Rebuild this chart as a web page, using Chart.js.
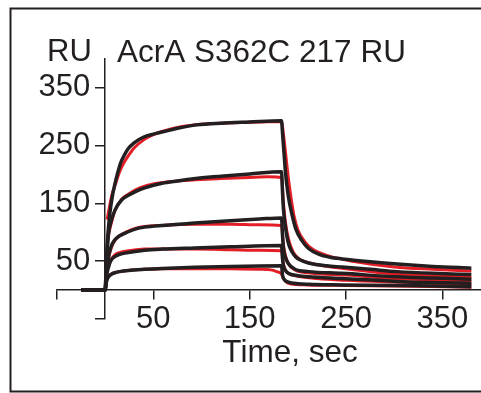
<!DOCTYPE html>
<html>
<head>
<meta charset="utf-8">
<script src="https://cdn.jsdelivr.net/npm/chart.js@4/dist/chart.umd.min.js"></script>
<style>
  html, body { margin: 0; padding: 0; background: #fff; }
  #wrap { width: 481px; height: 393px; position: relative; }
</style>
</head>
<body>
<div id="wrap"><canvas id="grafico"></canvas></div>
<script>
// ticks
const xTicks = [-50, 50, 150, 250, 350];
const yTicks = [-50, 50, 150, 250, 350];

// fitted curves (black), [time s, RU]
const fit1 = [[-25,0],[0,0],[1,40],[2,75],[3,100],[5,135],[7.5,163],[10,183],[13,203],[16,220],[20,234],[24,245],[30,255],[40,265],[50,270],[60,274],[75,280],[95,286],[120,289],[150,291],[183,293],[184,272],[185,250],[186,228],[187,205],[190,163],[194,130],[198,105],[204,86],[211,72],[222,62],[233,57],[246,54],[275,49],[303,45],[340,41],[380,38]];
const fit2 = [[-25,0],[0,0],[1,35],[2,65],[3.5,98],[6,118],[10,138],[17,156],[24,164],[32,171],[41,177],[59,185],[75,189],[94,193],[120,197],[150,201],[183,205],[184,170],[185,140],[187,110],[190,82],[194,66],[198,57],[204,51],[211,47],[230,42],[246,40],[275,36],[303,32],[340,29],[380,27]];
const fit3 = [[-25,0],[0,0],[1,22],[2,40],[3.5,58],[5,69],[7,79],[10,87],[15,94],[24,101],[32,106],[41,109],[59,112],[93,116],[130,120],[160,123],[183,125],[184,95],[185,72],[187,57],[190,46],[197,36],[211,32],[246,29],[303,23],[340,21],[380,19]];
const fit4 = [[-25,0],[0,0],[1,18],[2,30],[3.5,40],[5,48],[7,54],[10,58],[15,62],[24,65],[41,69],[59,71],[93,73],[130,75],[183,77],[184,55],[185,42],[187,34],[190,29],[200,25],[211,23],[246,20],[303,15],[340,13],[380,12]];
const fit5 = [[-25,0],[0,0],[1,12],[2,18],[3.5,23],[5,26],[7,28],[10,30],[15,32],[24,34],[41,36],[59,37.5],[93,39.5],[130,41],[183,42],[184,26],[186,18],[190,14],[200,11],[211,10],[246,9],[303,8],[340,7],[380,6]];

// measured sensorgrams (red)
const data1 = [[2,122],[4,140],[7,165],[10,180],[15,205],[20,222],[25,235],[30,246],[40,260],[50,269],[60,275],[80,283],[100,287],[120,289],[140,290],[160,291],[183,292],[185,270],[187,240],[190,195],[193,158],[196,128],[200,104],[207,84],[215,71],[230,60],[260,49],[300,40],[340,36],[380,33]];
const data2 = [[2,82],[4,100],[7,120],[10,137],[17,157],[24,166],[32,174],[41,180],[59,186],[75,189],[94,191],[120,193],[150,195],[170,196],[183,195],[185,150],[187,118],[190,90],[195,66],[200,56],[206,50],[220,44],[250,37],[300,28],[340,25],[380,22]];
const data3 = [[2,47],[4,60],[7,76],[10,86],[15,94],[24,102],[32,107],[41,110],[59,112],[93,114],[130,114],[160,113],[183,112],[185,78],[187,60],[190,46],[197,35],[210,30],[250,26],[300,20],[340,18],[380,16]];
const data4 = [[2,33],[4,44],[7,55],[10,61],[15,65],[24,68],[41,71],[59,71],[93,71],[130,70],[160,69],[183,68],[185,45],[187,35],[190,29],[200,24],[220,20],[250,17],[300,14],[340,12],[380,10]];
const data5 = [[2,21],[4,25],[7,28],[10,30],[15,32],[24,34],[41,36],[59,37],[93,37],[130,37],[160,36],[172,35],[178,32],[183,28],[185,20],[188,14],[192,11],[210,9],[250,8],[300,7],[380,5]];

const preto = '#231f20';
const vermelho = '#e41e26';
const fonte = '"Liberation Sans", Arial, Helvetica, sans-serif';

function serie(dados, cor, largura) {
  return {
    data: dados,
    borderColor: cor,
    borderWidth: largura,
    pointRadius: 0,
    fill: false,
    cubicInterpolationMode: 'monotone'
  };
}

const rotulo = v => v < 0 ? '' : v;

// textos e moldura
const textos = {
  id: 'textos',
  afterDraw(chart) {
    const ctx = chart.ctx;
    ctx.save();
    ctx.strokeStyle = preto;
    ctx.lineWidth = 2;
    ctx.strokeRect(10.5, 8.5, 520, 383);
    ctx.fillStyle = preto;
    ctx.font = '31px ' + fonte;
    ctx.textBaseline = 'alphabetic';
    ctx.textAlign = 'left';
    ctx.fillText('RU', 47, 61);
    ctx.font = '31.5px ' + fonte;
    ctx.fillText('AcrA S362C 217 RU', 117, 62);
    ctx.textAlign = 'center';
    ctx.fillText('Time, sec', 290, 362);
    ctx.restore();
  }
};

const ctx = document.getElementById('grafico').getContext('2d');
new Chart(ctx, {
  type: 'line',
  data: {
    datasets: [
      serie(fit1, preto, 3.5), serie(fit2, preto, 3.5), serie(fit3, preto, 3.5),
      serie(fit4, preto, 3.5), serie(fit5, preto, 3.5),
      serie(data1, vermelho, 3), serie(data2, vermelho, 3), serie(data3, vermelho, 3),
      serie(data4, vermelho, 3), serie(data5, vermelho, 3)
    ]
  },
  options: {
    responsive: true,
    maintainAspectRatio: false,
    animation: false,
    layout: { padding: { left: 57, right: 0, top: 59, bottom: 74 } },
    plugins: { legend: { display: false }, tooltip: { enabled: false } },
    scales: {
      x: {
        type: 'linear',
        min: -50,
        max: 390,
        position: { y: 0 },
        afterBuildTicks: s => { s.ticks = xTicks.map(v => ({ value: v })); },
        ticks: {
          autoSkip: false, maxRotation: 0, padding: 2, color: preto,
          font: { family: fonte, size: 31 },
          callback: rotulo
        },
        grid: { drawOnChartArea: false, tickLength: 9, color: preto, lineWidth: 1.5 },
        border: { color: preto, width: 1.5 }
      },
      y: {
        type: 'linear',
        min: -50,
        max: 400,
        position: { x: 0 },
        afterBuildTicks: s => { s.ticks = yTicks.map(v => ({ value: v })); },
        ticks: { display: false },
        grid: { drawOnChartArea: false, tickLength: 9, color: preto, lineWidth: 1.5 },
        border: { color: preto, width: 1.5 }
      },
      // escala só para os rótulos do eixo y, deslocada para a esquerda do eixo
      yRotulos: {
        type: 'linear',
        min: -50,
        max: 400,
        position: { x: -15.5 },
        afterBuildTicks: s => { s.ticks = yTicks.map(v => ({ value: v })); },
        ticks: {
          color: preto,
          font: { family: fonte, size: 31 },
          callback: rotulo
        },
        grid: { display: false },
        border: { display: false }
      }
    }
  },
  plugins: [textos]
});
</script>
</body>
</html>
